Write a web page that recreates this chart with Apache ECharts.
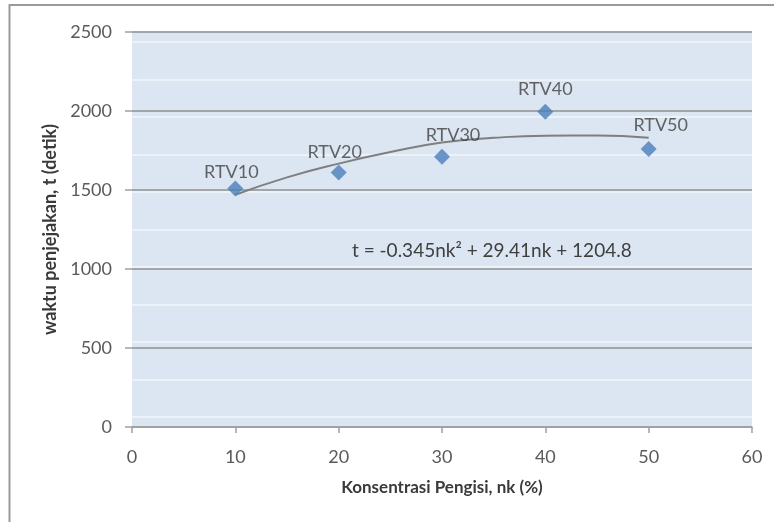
<!DOCTYPE html>
<html>
<head>
<meta charset="utf-8">
<script src="https://cdn.jsdelivr.net/npm/echarts@6/dist/echarts.min.js"></script>
<style>
html,body{margin:0;padding:0;background:#fff;}
#chart{width:774px;height:522px;}
</style>
</head>
<body>
<div id="chart"></div>
<script>
// ---- data ----
const sampleNames = ['RTV10', 'RTV20', 'RTV30', 'RTV40', 'RTV50'];
const concentration = [10, 20, 30, 40, 50];          // nk (%)
const trackingTime = [1510, 1610, 1710, 1995, 1760];  // t (detik)
// trendline
const trendX = [10, 15, 20, 25, 30, 35, 40, 45, 50];
const trendT = [1470, 1580, 1667, 1740, 1800, 1830, 1844, 1845, 1830];
const xTicks = [0, 10, 20, 30, 40, 50, 60];
const yTicks = [0, 500, 1000, 1500, 2000, 2500];
const equationText = 't = -0.345nk² + 29.41nk + 1204.8';

// ---- style (label nudges) ----
const labelOffsets = [[-4, -16], [-4, -20], [11, -22], [0, -23], [12, -24]];

const FONT = 'Lato, "Open Sans", sans-serif';
const chart = echarts.init(document.getElementById('chart'), null, {renderer: 'canvas'});

const scatterData = concentration.map((x, i) => ({
  value: [x, trackingTime[i]],
  name: sampleNames[i],
  label: {offset: labelOffsets[i]}
}));
const trendData = trendX.map((x, i) => [x, trendT[i]]);

chart.setOption({
  animation: false,
  backgroundColor: '#ffffff',
  textStyle: {fontFamily: FONT},
  grid: [
    {left: 132, right: 22, top: 32, bottom: 95, show: true, backgroundColor: '#dce6f2', borderWidth: 0, z: 0},
    {left: 132, right: 22, top: 42, bottom: 105, show: false, z: 0}
  ],
  xAxis: [
    {
      type: 'value', gridIndex: 0, min: xTicks[0], max: xTicks[xTicks.length - 1], interval: 10, z: 2,
      name: 'Konsentrasi Pengisi, nk (%)', nameLocation: 'middle', nameGap: 52,
      nameTextStyle: {fontFamily: FONT, fontSize: 17, fontWeight: 'bold', color: '#3a3a3a'},
      axisLine: {show: true, lineStyle: {color: '#a0a0a0', width: 1.5}},
      axisTick: {show: true, inside: false, length: 6, lineStyle: {color: '#a0a0a0', width: 1.5}},
      axisLabel: {fontFamily: FONT, fontSize: 18, color: '#5a5a5a', margin: 21, formatter: v => String(v)},
      splitLine: {show: false}
    },
    {type: 'value', gridIndex: 1, min: 0, max: 1, show: false}
  ],
  yAxis: [
    {
      type: 'value', gridIndex: 0, min: yTicks[0], max: yTicks[yTicks.length - 1], interval: 500, z: 2,
      name: 'waktu penjejakan, t (detik)', nameLocation: 'middle', nameGap: 58,
      nameTextStyle: {fontFamily: FONT, fontSize: 18, fontWeight: 'bold', color: '#3a3a3a'},
      axisLine: {show: false},
      axisTick: {show: true, inside: false, length: 7, lineStyle: {color: '#a0a0a0', width: 1.5}},
      axisLabel: {fontFamily: FONT, fontSize: 18, color: '#5a5a5a', margin: 20, formatter: v => String(v)},
      splitLine: {show: true, lineStyle: {color: '#a2a5a9', width: 2}}
    },
    {
      type: 'value', gridIndex: 1, min: 0, max: 10, interval: 1, z: 1,
      axisLine: {show: false}, axisTick: {show: false}, axisLabel: {show: false},
      splitLine: {show: true, lineStyle: {color: '#f3f6fa', width: 1.5}}
    }
  ],
  graphic: [
    {type: 'rect', shape: {x: 9.5, y: 5, width: 800, height: 600}, style: {fill: 'none', stroke: '#9a9a9a', lineWidth: 2}, z: 10, silent: true},
    {type: 'text', x: 352, y: 251, style: {text: equationText, fontFamily: FONT, fontSize: 19, fill: '#3f3f3f', textVerticalAlign: 'middle', textAlign: 'left'}, z: 10}
  ],
  series: [
    {
      type: 'line', xAxisIndex: 0, yAxisIndex: 0, data: trendData, smooth: true, symbol: 'none', z: 3,
      lineStyle: {color: '#7f7f7f', width: 2}
    },
    {
      type: 'scatter', xAxisIndex: 0, yAxisIndex: 0, data: scatterData, symbol: 'diamond', symbolSize: 16, z: 4,
      itemStyle: {color: '#4a7ebb'},
      label: {show: true, position: 'inside', formatter: '{b}', fontFamily: FONT, fontSize: 18, color: '#404040'}
    },
    {type: 'scatter', xAxisIndex: 1, yAxisIndex: 1, data: []}
  ]
});
</script>
</body>
</html>
